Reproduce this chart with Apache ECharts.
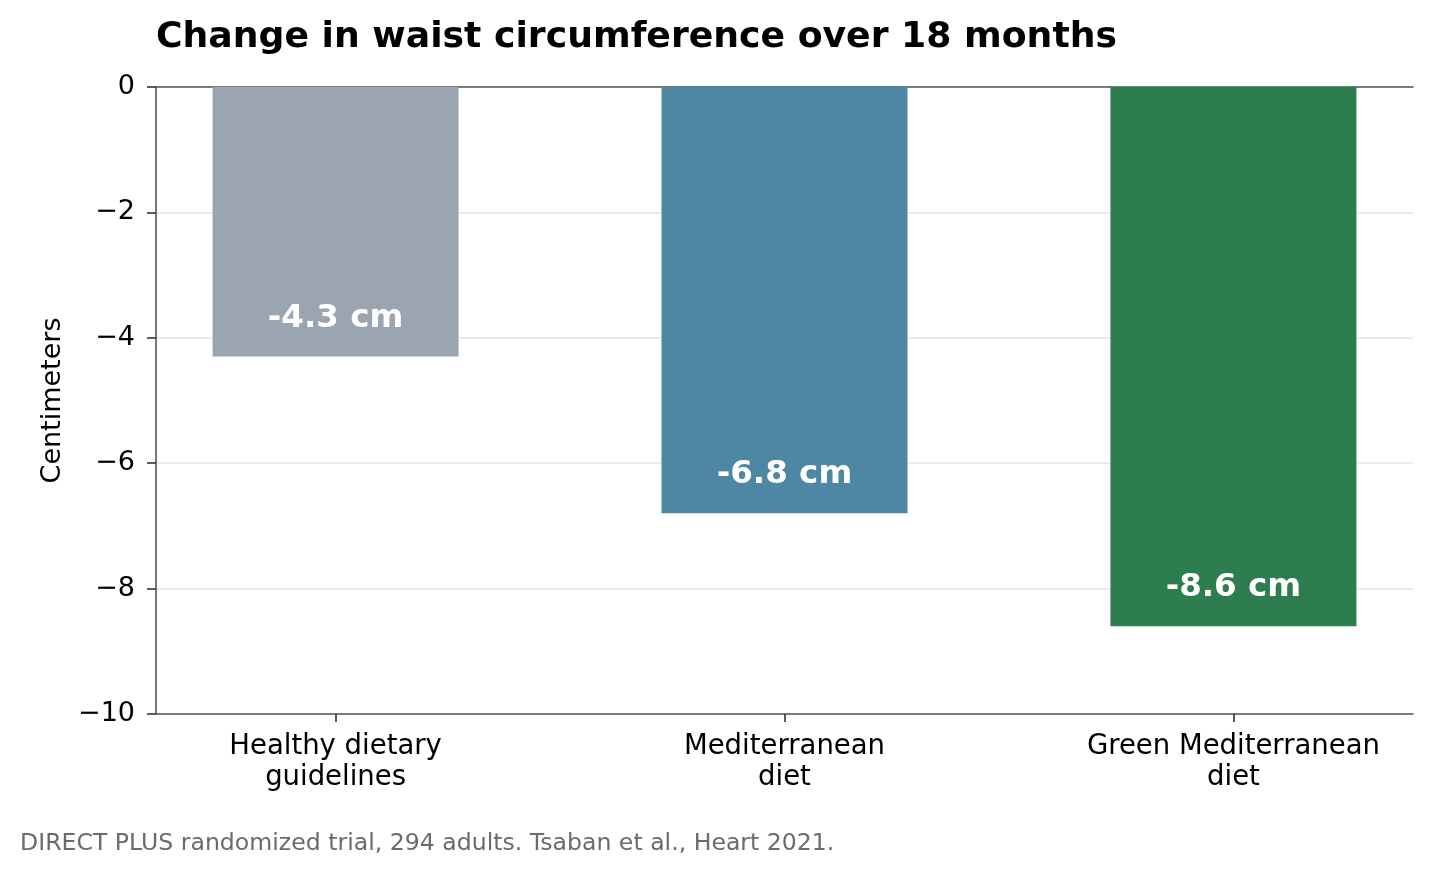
<!DOCTYPE html>
<html>
<head>
<meta charset="utf-8">
<script src="https://cdn.jsdelivr.net/npm/echarts@6/dist/echarts.min.js"></script>
<style>
html,body{margin:0;padding:0;background:#fff;}
#chart{width:1432px;height:877px;}
</style>
</head>
<body>
<div id="chart"></div>
<script>
const categories = ['Healthy dietary\nguidelines', 'Mediterranean\ndiet', 'Green Mediterranean\ndiet'];
const values = [-4.3, -6.8, -8.6];
const barColors = ['#9aa5b1', '#4e87a3', '#2e7d4f'];
const yTicks = [0, -2, -4, -6, -8, -10];
const FONT = 'DejaVu Sans';

const chart = echarts.init(document.getElementById('chart'), null, {renderer: 'canvas'});
const positions = categories.map((c, i) => i);

chart.setOption({
  backgroundColor: '#fff',
  animation: false,
  title: [
    {
      text: 'Change in waist circumference over 18 months',
      left: 156, top: 20, padding: 0,
      textStyle: {fontFamily: FONT, fontSize: 36.2, fontWeight: 'bold', color: '#000'}
    },
    {
      text: 'DIRECT PLUS randomized trial, 294 adults. Tsaban et al., Heart 2021.',
      left: 20, top: 832, padding: 0,
      textStyle: {fontFamily: FONT, fontSize: 23.6, fontWeight: 'normal', color: '#6b6b6b'}
    }
  ],
  grid: {left: 156, right: 19, top: 87, bottom: 163, containLabel: false},
  xAxis: [
    {
      type: 'value', min: -0.4, max: 2.4, position: 'bottom',
      axisLine: {show: true, onZero: false, lineStyle: {color: '#555', width: 1.6}},
      axisTick: {show: true, customValues: positions, length: 8, lineStyle: {color: '#333', width: 1.6}},
      axisLabel: {
        show: true, customValues: positions, margin: 17,
        formatter: v => categories[Math.round(v)],
        fontFamily: FONT, fontSize: 27.5, color: '#000', lineHeight: 31
      },
      splitLine: {show: false}
    },
    {
      type: 'value', min: -0.4, max: 2.4, position: 'top',
      axisLine: {show: true, onZero: false, lineStyle: {color: '#555', width: 1.6}},
      axisTick: {show: false}, axisLabel: {show: false}, splitLine: {show: false}
    }
  ],
  yAxis: {
    type: 'value', min: yTicks[yTicks.length - 1], max: yTicks[0], interval: 2,
    name: 'Centimeters', nameLocation: 'middle', nameGap: 90, nameRotate: 90,
    nameTextStyle: {fontFamily: FONT, fontSize: 27, color: '#000'},
    axisLine: {show: true, onZero: false, lineStyle: {color: '#555', width: 1.6}},
    axisTick: {show: true, length: 9, lineStyle: {color: '#333', width: 1.6}},
    axisLabel: {
      margin: 21, fontFamily: FONT, fontSize: 27, color: '#000',
      formatter: v => String(v).replace('-', '\u2212')
    },
    splitLine: {show: true, lineStyle: {color: '#e5e5e5', width: 1.6}}
  },
  series: [{
    type: 'bar',
    xAxisIndex: 0,
    barWidth: 246,
    data: values.map((v, i) => ({value: [i, v], itemStyle: {color: barColors[i]}})),
    label: {
      show: true, position: 'insideBottom', distance: 22,
      formatter: p => p.value[1].toFixed(1) + ' cm',
      fontFamily: FONT, fontSize: 32.5, fontWeight: 'bold', color: '#fff'
    },
    z: 1
  }]
});
</script>
</body>
</html>
